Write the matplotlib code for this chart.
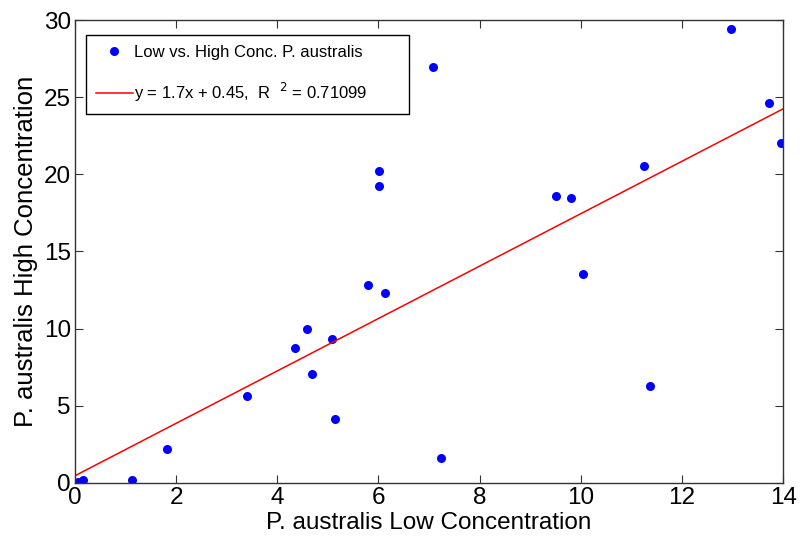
import numpy as np
import matplotlib
matplotlib.use("Agg")
import matplotlib.pyplot as plt

plt.rcParams['font.family'] = ['Liberation Sans', 'DejaVu Sans']

# Low vs. high concentration measurements
low_conc = [0.0, 0.05, 0.15, 1.13, 1.82, 3.40, 4.35, 4.59, 4.69, 5.08, 5.14,
            5.79, 6.13, 6.01, 6.01, 7.08, 7.24, 9.51, 9.81, 10.05, 11.25,
            11.37, 12.96, 13.72, 13.96]
high_conc = [0.0, 0.05, 0.2, 0.2, 2.18, 5.65, 8.75, 9.95, 7.05, 9.3, 4.15,
             12.8, 12.3, 20.2, 19.25, 26.95, 1.6, 18.6, 18.45, 13.55, 20.55,
             6.25, 29.4, 24.6, 22.05]

slope, intercept, r2 = 1.7, 0.45, 0.71099
fit_x = [0, 14]

fig = plt.figure(figsize=(8.02, 5.46), dpi=100)
ax = fig.add_axes([0.0935, 0.116, 0.883, 0.847])

ax.plot(low_conc, high_conc, 'o', color='#0000ff', markersize=6.5,
        markeredgewidth=0, label='Low vs. High Conc. P. australis')
fx = np.array(fit_x, dtype=float)
ax.plot(fx, slope * fx + intercept, '-', color='#ff0000', linewidth=1.1,
        label='y = 1.7x + 0.45,  R  $^{2}$ = 0.71099')

ax.set_xlim(0, 14)
ax.set_ylim(0, 30)
ax.set_xticks(np.arange(0, 15, 2))
ax.set_yticks(np.arange(0, 31, 5))
ax.tick_params(direction='in', top=True, right=True, labelsize=17.5,
               length=6, width=0.8, color='#333333', pad=3)
for s in ax.spines.values():
    s.set_color('#333333')
    s.set_linewidth(1.0)

ax.set_xlabel('P. australis Low Concentration', fontsize=17.5, labelpad=2)
ax.set_ylabel('P. australis High Concentration', fontsize=18.5, labelpad=4)

leg = ax.legend(loc='upper left', bbox_to_anchor=(0.0155, 0.0, 0.456, 0.968),
                mode='expand', fontsize=12, fancybox=False,
                edgecolor='black', framealpha=1, borderpad=0.6,
                labelspacing=1.25, handlelength=2.2, handletextpad=0.1,
                borderaxespad=0)
leg.get_frame().set_linewidth(1.0)

fig.savefig('out.png', dpi=100)
